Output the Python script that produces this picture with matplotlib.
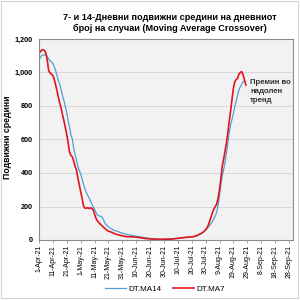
import pandas as pd
import matplotlib
matplotlib.use("Agg")
from matplotlib import pyplot as plt
from matplotlib.patches import Rectangle
import matplotlib.dates as mdates
from matplotlib.ticker import FuncFormatter

plt.rcParams['font.family'] = ['Liberation Sans', 'DejaVu Sans']

start = pd.Timestamp("2021-04-01")

# days since 1-Apr-21 and values
ma7_days = [0, 1, 2, 3, 4, 5, 6, 7, 8, 9, 10, 11, 12, 13, 14, 15, 16, 17, 18, 19,
            20, 21, 22, 23, 24, 25, 26, 27, 28, 29, 30, 31, 32, 33, 34, 35, 36, 37, 38, 39,
            40, 41, 42, 43, 44, 45, 46, 47, 48, 49, 50, 51, 53, 55, 57, 59, 61, 63, 66, 69,
            72, 75, 78, 81, 84, 87, 90, 93, 96, 99, 102, 105, 108, 111, 113, 115, 117, 119, 120, 121,
            122, 123, 124, 125, 126, 127, 128, 129, 130, 131, 132, 133, 134, 135, 136, 137, 138, 139, 140, 141,
            142, 143, 144, 145, 146, 147, 148, 149]
ma7 = [1112, 1125, 1134, 1136, 1130, 1115, 1070, 1010, 998, 990, 982, 960, 925, 890, 850, 815, 785, 745, 710, 670,
       630, 580, 525, 505, 497, 470, 440, 418, 370, 330, 290, 250, 205, 190, 190, 193, 188, 192, 190, 180,
       155, 130, 115, 105, 96, 88, 80, 72, 65, 58, 53, 50, 44, 36, 31, 27, 23, 20, 19, 18,
       15, 11, 8, 6, 5, 4, 4, 5, 6, 9, 12, 15, 18, 20, 24, 32, 40, 52, 62, 72,
       90, 115, 140, 165, 185, 200, 215, 250, 300, 370, 440, 485, 530, 580, 640, 710, 770, 840, 905, 945,
       958, 965, 990, 1000, 1005, 985, 955, 925]

ma14_days = [0, 1, 2, 3, 4, 5, 6, 7, 8, 9, 10, 11, 12, 13, 14, 15, 16, 17, 18, 19,
             20, 21, 22, 23, 24, 25, 26, 27, 28, 29, 30, 31, 32, 33, 34, 35, 36, 37, 38, 39,
             40, 41, 42, 43, 44, 45, 46, 47, 48, 49, 50, 51, 53, 55, 57, 59, 61, 63, 65, 67,
             69, 71, 73, 75, 78, 81, 84, 87, 90, 93, 96, 99, 102, 105, 108, 111, 113, 115, 117, 119,
             121, 123, 125, 127, 128, 129, 130, 131, 132, 133, 134, 135, 136, 137, 138, 139, 140, 141,
             142, 143, 144, 145, 146, 147, 148]
ma14 = [1075, 1090, 1102, 1105, 1104, 1103, 1095, 1080, 1070, 1062, 1055, 1035, 1010, 980, 950, 930, 895, 860, 830, 795,
        760, 710, 675, 625, 605, 545, 510, 475, 440, 415, 395, 365, 335, 305, 285, 268, 252, 235, 215, 200,
        185, 165, 150, 145, 142, 140, 130, 110, 95, 85, 78, 72, 62, 55, 50, 44, 39, 34, 30, 27,
        24, 21, 19, 15, 11, 8, 6, 5, 5, 6, 7, 9, 12, 15, 17, 19, 22, 30, 40, 52,
        68, 88, 112, 145, 165, 210, 265, 330, 385, 420, 465, 520, 580, 640, 690, 720, 755, 795,
        830, 865, 895, 915, 930, 945, 950]

tick_days = list(range(0, 181, 10))

d7 = [start + pd.Timedelta(days=d) for d in ma7_days]
d14 = [start + pd.Timedelta(days=d) for d in ma14_days]
ticks = [start + pd.Timedelta(days=d) for d in tick_days]

fig = plt.figure(figsize=(3, 3), dpi=100)
fig.patches.append(Rectangle((0.004, 0.006), 0.99, 0.99, transform=fig.transFigure,
                             fill=False, edgecolor="#d4d4d4", linewidth=0.8))
ax = fig.add_axes([0.13, 0.2, 0.847, 0.67])
ax.set_facecolor("#f2f2f2")

ax.plot(d14, ma14, color="#4f9fd8", linewidth=0.9, label="DT.MA14")
ax.plot(d7, ma7, color="#e3141b", linewidth=1.2, label="DT.MA7")

ax.set_ylim(0, 1200)
ax.set_yticks(range(0, 1201, 200))
ax.yaxis.set_major_formatter(FuncFormatter(lambda v, p: f"{int(v):,}"))
ax.set_xlim(start, start + pd.Timedelta(days=183))
ax.set_xticks(ticks)
ax.xaxis.set_major_formatter(FuncFormatter(
    lambda v, p: f"{mdates.num2date(v).day}-{mdates.num2date(v).strftime('%b-%y')}"))
ax.tick_params(axis="x", labelsize=5, rotation=90, length=2, width=0.5, color="#808080", pad=1.5)
ax.tick_params(axis="y", labelsize=5.2, length=0, pad=4.5)
for lb in ax.get_yticklabels():
    lb.set_fontweight("bold")

ax.grid(axis="y", color="#d3d3d3", linewidth=0.6)
ax.set_axisbelow(True)
for s in ax.spines.values():
    s.set_color("#8c8c8c")
    s.set_linewidth(0.8)

ax.set_ylabel("Подвижни средини", fontsize=6.2, fontweight="bold")
ax.yaxis.set_label_coords(-0.105, 0.51)
fig.text(0.567, 0.955, "7- и 14-Дневни подвижни средини на дневниот\nброј на случаи (Moving Average Crossover)",
         ha="center", va="top", fontsize=6.6, fontweight="bold", linespacing=1.15)

ax.text(start + pd.Timedelta(days=152), 960, "Премин во\nнадолен\nтренд", fontsize=5.6,
        fontweight="bold", va="top", ha="left", linespacing=1.4, clip_on=True, color="#333333")

fig.legend(loc="center", bbox_to_anchor=(0.55, 0.037), ncol=2, frameon=False, fontsize=5.8,
           handlelength=2.6, columnspacing=1.5, handletextpad=0.3)

fig.savefig("out.png", dpi=100)
